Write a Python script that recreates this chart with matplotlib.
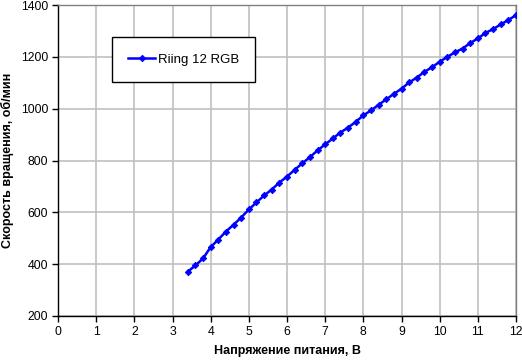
import matplotlib
matplotlib.use("Agg")
import matplotlib.pyplot as plt

plt.rcParams['font.family'] = ['Liberation Sans', 'DejaVu Sans']

voltage = [3.4, 3.6, 3.8, 4.0, 4.2, 4.4, 4.6, 4.8, 5.0, 5.2, 5.4, 5.6, 5.8, 6.0,
           6.2, 6.4, 6.6, 6.8, 7.0, 7.2, 7.4, 7.6, 7.8, 8.0, 8.2, 8.4, 8.6, 8.8,
           9.0, 9.2, 9.4, 9.6, 9.8, 10.0, 10.2, 10.4, 10.6, 10.8, 11.0, 11.2,
           11.4, 11.6, 11.8, 12.0]
rpm = [371, 395, 422, 466, 495, 526, 552, 580, 611, 638, 665, 688, 715, 738,
       764, 789, 813, 839, 862, 885, 908, 927, 949, 974, 993, 1015, 1036, 1057,
       1077, 1101, 1120, 1142, 1160, 1181, 1200, 1217, 1232, 1253, 1271, 1292,
       1307, 1325, 1342, 1361]
series_name = "Riing 12 RGB"
x_ticks = list(range(0, 13))
y_ticks = [200, 400, 600, 800, 1000, 1200, 1400]
x_label = "Напряжение питания, В"
y_label = "Скорость вращения, об/мин"

W, H = 522, 362
fig = plt.figure(figsize=(W / 100, H / 100), dpi=100)
ax = fig.add_axes([58 / W, 1 - 316 / H, (516 - 58) / W, (316 - 5) / H])

ax.plot(voltage, rpm, color='#0000ff', lw=1.8, marker='D', ms=3.3,
        markeredgewidth=0.6, markeredgecolor='#0000ff', label=series_name,
        zorder=3)

ax.set_xlim(0, 12)
ax.set_ylim(200, 1400)
ax.set_xticks(x_ticks)
ax.set_yticks(y_ticks)
ax.grid(True, color='#c0c0c0', lw=1.2)
ax.set_axisbelow(True)

for s in ['top', 'right']:
    ax.spines[s].set_color('#808080')
    ax.spines[s].set_linewidth(1.0)
for s in ['left', 'bottom']:
    ax.spines[s].set_color('black')
    ax.spines[s].set_linewidth(1.0)

ax.tick_params(axis='both', direction='out', length=4, width=1, colors='black',
               labelsize=8.8, pad=3)
ax.set_xlabel(x_label, fontsize=9, fontweight='bold', labelpad=5)
ax.set_ylabel(y_label, fontsize=9, fontweight='bold')
ax.yaxis.set_label_coords(-0.097, 0.5)

leg = ax.legend(loc='upper left', bbox_to_anchor=((112 - 58) / 458, 1 - (37 - 5) / 311),
                frameon=True, fancybox=False, edgecolor='black', fontsize=9.5,
                borderpad=1.25, handlelength=2.0, handletextpad=0.2,
                borderaxespad=0, framealpha=1)
leg.get_frame().set_linewidth(1.0)

fig.savefig("out.png", dpi=100)
